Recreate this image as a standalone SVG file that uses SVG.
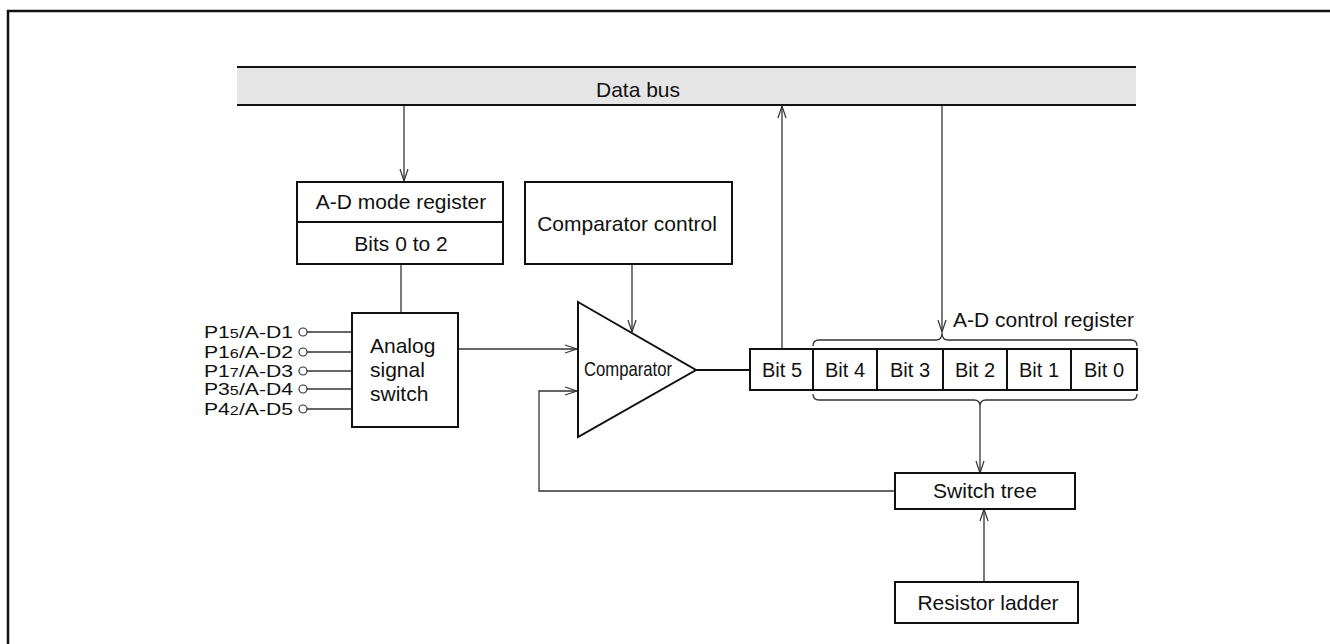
<svg xmlns="http://www.w3.org/2000/svg" width="1330" height="644" viewBox="0 0 1330 644">
<style>
text{font-family:"Liberation Sans",Arial,sans-serif;font-size:21px;fill:#111}
.box{fill:#fff;stroke:#111;stroke-width:2}
.c{fill:none;stroke:#333;stroke-width:1.3}
.mid{text-anchor:middle}
.pin{font-size:17px}
.bit{font-size:20px}
</style>
<defs>
<marker id="ar" markerUnits="userSpaceOnUse" markerWidth="14" markerHeight="10" refX="13" refY="5" orient="auto">
<path d="M1,1 L13,5 L1,9" fill="none" stroke="#333" stroke-width="1.2"/>
</marker>
</defs>
<rect x="0" y="0" width="1330" height="644" fill="#fff"/>
<path d="M8,700 L8,11 L1400,11" fill="none" stroke="#111" stroke-width="2.5"/>
<g id="databus">
<rect x="237" y="67" width="899" height="38" fill="#e5e5e5"/>
<line x1="237" y1="67" x2="1136" y2="67" stroke="#111" stroke-width="2"/>
<line x1="237" y1="105" x2="1136" y2="105" stroke="#111" stroke-width="2"/>
<text x="638" y="97" class="mid">Data bus</text>
</g>
<g id="connectors">
<line class="c" x1="404" y1="106" x2="404" y2="181" marker-end="url(#ar)"/>
<line class="c" x1="401" y1="264" x2="401" y2="313"/>
<line class="c" x1="632" y1="264" x2="632" y2="332" marker-end="url(#ar)"/>
<line class="c" x1="458" y1="349" x2="577" y2="349" marker-end="url(#ar)"/>
<polyline class="c" points="895,491 539,491 539,391 577,391" marker-end="url(#ar)"/>
<line x1="696" y1="370" x2="750" y2="370" stroke="#111" stroke-width="2"/>
<line class="c" x1="782" y1="349" x2="782" y2="106" marker-end="url(#ar)"/>
<line class="c" x1="942" y1="106" x2="942" y2="332" marker-end="url(#ar)"/>
<path class="c" d="M813,346 Q813,340 819,340 L936,340 Q942,340 942,333 Q942,340 948,340 L1131,340 Q1137,340 1137,346"/>
<path class="c" d="M813,394 Q813,400 819,400 L974,400 Q980,400 980,406 Q980,400 986,400 L1131,400 Q1137,400 1137,394"/>
<line class="c" x1="980" y1="406" x2="980" y2="473" marker-end="url(#ar)"/>
<line class="c" x1="984" y1="582" x2="984" y2="509" marker-end="url(#ar)"/>
<line class="c" x1="307" y1="332" x2="352" y2="332"/>
<line class="c" x1="307" y1="352" x2="352" y2="352"/>
<line class="c" x1="307" y1="371" x2="352" y2="371"/>
<line class="c" x1="307" y1="389" x2="352" y2="389"/>
<line class="c" x1="307" y1="409" x2="352" y2="409"/>
</g>
<g id="admode">
<rect class="box" x="297" y="182" width="206" height="82"/>
<line x1="297" y1="222" x2="503" y2="222" stroke="#111" stroke-width="2"/>
<text x="401" y="209" class="mid">A-D mode register</text>
<text x="401" y="251" class="mid">Bits 0 to 2</text>
</g>
<g id="compctrl">
<rect class="box" x="525" y="182" width="207" height="82"/>
<text x="627" y="231" class="mid">Comparator control</text>
</g>
<g id="analog">
<rect class="box" x="352" y="313" width="106" height="114"/>
<text x="370" y="353">Analog</text>
<text x="370" y="377">signal</text>
<text x="370" y="401">switch</text>
</g>
<g id="pins">
<g fill="#fff" stroke="#333" stroke-width="1.2">
<circle cx="303" cy="332" r="4"/>
<circle cx="303" cy="352" r="4"/>
<circle cx="303" cy="371" r="4"/>
<circle cx="303" cy="389" r="4"/>
<circle cx="303" cy="409" r="4"/>
</g>
<text x="204" y="338" class="pin" textLength="89" lengthAdjust="spacingAndGlyphs">P1<tspan font-size="13">5</tspan>/A-D1</text>
<text x="204" y="358" class="pin" textLength="89" lengthAdjust="spacingAndGlyphs">P1<tspan font-size="13">6</tspan>/A-D2</text>
<text x="204" y="377" class="pin" textLength="89" lengthAdjust="spacingAndGlyphs">P1<tspan font-size="13">7</tspan>/A-D3</text>
<text x="204" y="395" class="pin" textLength="89" lengthAdjust="spacingAndGlyphs">P3<tspan font-size="13">5</tspan>/A-D4</text>
<text x="204" y="415" class="pin" textLength="89" lengthAdjust="spacingAndGlyphs">P4<tspan font-size="13">2</tspan>/A-D5</text>
</g>
<g id="comparator">
<polygon points="578,302 696,370 578,437" fill="#fff" stroke="#111" stroke-width="2"/>
<text x="584" y="376" font-size="20" textLength="88" lengthAdjust="spacingAndGlyphs">Comparator</text>
</g>
<g id="adcontrol">
<rect class="box" x="750" y="349" width="387" height="41"/>
<g stroke="#111" stroke-width="2">
<line x1="813" y1="349" x2="813" y2="390"/>
<line x1="877" y1="349" x2="877" y2="390"/>
<line x1="943" y1="349" x2="943" y2="390"/>
<line x1="1007" y1="349" x2="1007" y2="390"/>
<line x1="1071" y1="349" x2="1071" y2="390"/>
</g>
<text x="782" y="377" class="mid bit">Bit 5</text>
<text x="845" y="377" class="mid bit">Bit 4</text>
<text x="910" y="377" class="mid bit">Bit 3</text>
<text x="975" y="377" class="mid bit">Bit 2</text>
<text x="1039" y="377" class="mid bit">Bit 1</text>
<text x="1104" y="377" class="mid bit">Bit 0</text>
<text x="953" y="327">A-D control register</text>
</g>
<g id="switchtree">
<rect class="box" x="895" y="473" width="180" height="36"/>
<text x="985" y="498" class="mid">Switch tree</text>
</g>
<g id="ladder">
<rect class="box" x="895" y="582" width="183" height="41"/>
<text x="988" y="610" class="mid">Resistor ladder</text>
</g>
</svg>
